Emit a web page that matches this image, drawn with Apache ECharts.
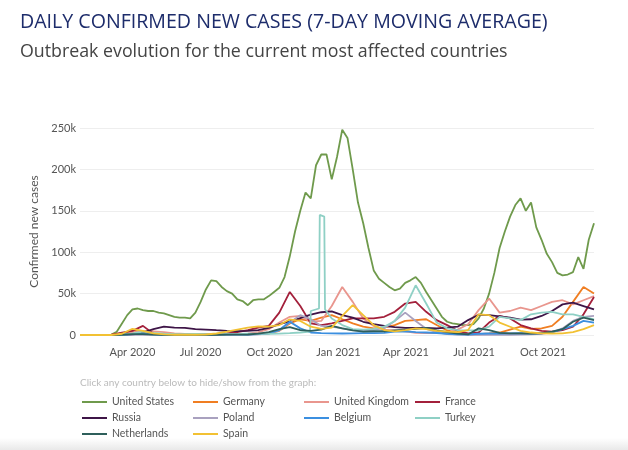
<!DOCTYPE html>
<html>
<head>
<meta charset="utf-8">
<script src="https://cdn.jsdelivr.net/npm/echarts@6/dist/echarts.min.js"></script>
<style>
  html, body { margin: 0; padding: 0; background: #fff; }
  #chart { width: 628px; height: 450px; }
</style>
</head>
<body>
<div id="chart"></div>
<script>
// weekly points for the US, every 2 weeks for the others, starting 2020-01-22 (thousands of cases)
const startDate = [2020, 0, 22];
const quarterTicks = ['2020-04-01', '2020-07-01', '2020-10-01', '2021-01-01', '2021-04-01', '2021-07-01', '2021-10-01'];
const monthNames = ['Jan', 'Feb', 'Mar', 'Apr', 'May', 'Jun', 'Jul', 'Aug', 'Sep', 'Oct', 'Nov', 'Dec'];

const unitedStates = [0, 0, 0, 0, 0, 0, 0.5, 4, 14, 24, 31, 32, 30, 29, 29, 27, 26, 24, 22, 21,
  21, 20, 27, 40, 55, 66, 65, 58, 53, 50, 43, 41, 36, 42, 43, 43, 47, 52, 57, 70,
  95, 125, 150, 172, 165, 205, 218, 218, 188, 215, 248, 238, 200, 160, 135, 105, 78, 68, 63, 58,
  54, 56, 63, 66, 70, 63, 52, 42, 32, 22, 16, 14, 13, 12, 12, 13, 20, 32, 50, 75,
  105, 125, 143, 157, 165, 150, 160, 130, 115, 98, 88, 75, 72, 73, 76, 94, 80, 115, 135];

const germany = [0, 0, 0, 0.05, 1.8, 5.5, 3.5, 1.2, 0.7, 0.5, 0.4, 0.5, 0.4, 0.6, 0.9, 1.3, 1.4, 1.6, 1.9, 5,
  14, 19, 17, 21, 24, 19, 14, 10, 8, 9, 12, 17, 18, 19, 12, 5.5, 2.5, 0.7, 0.9, 1.8,
  3, 6.5, 10, 7.5, 8, 11, 22, 40, 58, 50];
const unitedKingdom = [0, 0, 0, 0.05, 0.8, 3, 4.5, 4.5, 3.5, 2, 1.3, 0.9, 0.6, 0.7, 0.9, 1, 1.5, 3.5, 7, 15,
  22, 23, 16, 17, 35, 58, 40, 20, 11, 6.5, 5.5, 4.5, 2.7, 2.2, 2.3, 3, 6.5, 13, 30, 44,
  27, 29, 33, 30, 35, 40, 42, 37, 42, 47];
const france = [0, 0, 0, 0.3, 3, 5, 11, 1.5, 0.8, 0.5, 0.5, 0.6, 0.7, 1, 1.8, 3.5, 6, 9, 11, 27,
  52, 35, 14, 12, 14, 17, 20, 20, 20, 22, 28, 38, 40, 28, 18, 12, 5, 2, 3, 15,
  23, 20, 12, 8, 5, 4, 6, 10, 25, 46];
const russia = [0, 0, 0, 0, 0.03, 0.5, 3, 7, 10, 9, 8.7, 7, 6.6, 5.8, 5.1, 4.8, 5, 5.8, 8.5, 13,
  16.5, 20.5, 24.5, 27.5, 28.5, 24, 21, 16, 13, 11, 9.5, 8.6, 8.5, 8.6, 8, 9, 10, 18, 24.5, 24,
  22.5, 21, 18.5, 19, 23, 29, 37, 39, 35, 31];
const poland = [0, 0, 0, 0, 0.03, 0.2, 0.3, 0.35, 0.3, 0.3, 0.4, 0.3, 0.3, 0.5, 0.7, 0.7, 0.6, 0.8, 1.7, 5.5,
  15, 24, 19, 11, 10, 8, 6, 5, 6.5, 8, 17, 27, 17, 7.5, 3.5, 1.2, 0.4, 0.15, 0.1, 0.1,
  0.15, 0.2, 0.4, 0.7, 1.5, 3.5, 8, 17, 22, 23];
const belgium = [0, 0, 0, 0, 0.3, 1.2, 1.3, 0.7, 0.3, 0.2, 0.1, 0.1, 0.2, 0.4, 0.5, 0.5, 0.5, 1, 2, 6,
  16, 8, 3, 2.2, 2, 1.8, 2, 2.2, 2.2, 2.6, 4, 4.5, 3.5, 3, 2.4, 1.5, 0.8, 0.6, 1.5, 1.8,
  1.8, 2, 2.2, 1.8, 2.3, 3, 7, 11, 17, 15];
const turkey = [0, 0, 0, 0, 0.1, 2, 4, 2.5, 1.5, 1, 1, 1.3, 1.1, 0.95, 1.1, 1.2, 1.5, 1.7, 1.5, 1.7,
  2.2, 3, 29, null, 20, 12, 7, 6.5, 7.5, 10, 17, 33, 60, 38, 15, 8, 6, 5.5, 5.5, 10,
  22, 20, 18, 25, 27, 28, 25, 25, 22, 19];
// the December 2020 reporting spike
const turkeySpikeDates = ['2020-11-24', '2020-12-06', '2020-12-07', '2020-12-13', '2020-12-14'];
const turkeySpikeValues = [4, 32, 145, 143, 31];
const netherlands = [0, 0, 0, 0, 0.3, 1, 1.1, 0.5, 0.2, 0.2, 0.15, 0.05, 0.1, 0.2, 0.45, 0.55, 0.6, 1.6, 3.5, 7,
  9.5, 6, 5, 6.5, 11, 8, 5.5, 4, 4.5, 4.5, 5.5, 6.5, 7.5, 8.5, 5.5, 3.5, 1.7, 0.7, 8, 6,
  2.5, 2, 2, 1.8, 2, 4, 7, 16, 21, 18];
const spain = [0, 0, 0, 0, 1.5, 7.5, 5, 2, 0.7, 0.3, 0.3, 0.3, 0.6, 1.8, 4, 6.5, 9, 10.5, 10, 12,
  19, 17, 10, 7.5, 9, 23, 36, 24, 12, 6, 4.5, 6, 8, 7, 5, 4, 3.5, 6, 25, 24,
  15, 10, 5, 3, 2, 1.8, 2, 3.5, 7, 12];

const countries = ['United States', 'Germany', 'United Kingdom', 'France', 'Russia', 'Poland', 'Belgium', 'Turkey', 'Netherlands', 'Spain'];
const colors = ['#6f9a4c', '#f07e22', '#e9968e', '#a3203b', '#3e1547', '#a9a1bf', '#3b8fe0', '#8fd0c5', '#2e5f5b', '#f2c133'];

function dayAt(n) {
  return new Date(startDate[0], startDate[1], startDate[2] + n).getTime();
}
function toTime(s) {
  const p = s.split('-').map(Number);
  return new Date(p[0], p[1] - 1, p[2]).getTime();
}
function pairs(values, step) {
  return values.map((v, i) => [dayAt(i * step), v]).filter((p) => p[1] !== null);
}

const turkeyData = pairs(turkey, 14)
  .concat(turkeySpikeDates.map((d, i) => [toTime(d), turkeySpikeValues[i]]))
  .sort((a, b) => a[0] - b[0]);

const seriesData = [
  pairs(unitedStates, 7),
  pairs(germany, 14),
  pairs(unitedKingdom, 14),
  pairs(france, 14),
  pairs(russia, 14),
  pairs(poland, 14),
  pairs(belgium, 14),
  turkeyData,
  pairs(netherlands, 14),
  pairs(spain, 14),
];

const chart = echarts.init(document.getElementById('chart'));
const titleFont = '"Open Sans", sans-serif';
const font = 'Lato, sans-serif';

chart.setOption({
  backgroundColor: '#fff',
  color: colors,
  animation: false,
  title: [
    {
      text: 'DAILY CONFIRMED NEW CASES (7-DAY MOVING AVERAGE)',
      left: 20, top: 12, padding: 0,
      textStyle: { fontSize: 19.6, fontWeight: 'normal', color: '#1d2c6b', fontFamily: titleFont },
    },
    {
      text: 'Outbreak evolution for the current most affected countries',
      left: 20, top: 43, padding: 0,
      textStyle: { fontSize: 17.8, fontWeight: 'normal', color: '#444', fontFamily: titleFont },
    },
    {
      text: 'Click any country below to hide/show from the graph:',
      left: 80, top: 378, padding: 0,
      textStyle: { fontSize: 10, fontWeight: 'normal', color: '#bbb', fontFamily: font },
    },
  ],
  legend: {
    data: countries,
    left: 82, top: 394, width: 450,
    padding: 0,
    itemWidth: 25, itemHeight: 2, itemGap: 0,
    icon: 'rect',
    textStyle: { fontSize: 10.5, color: '#555', width: 81, lineHeight: 16, fontFamily: font },
  },
  grid: { left: 80, right: 34, top: 128, bottom: 115 },
  xAxis: {
    type: 'value',
    min: dayAt(0),
    max: dayAt(98 * 7),
    axisLine: { show: false },
    axisTick: { show: false },
    splitLine: { show: false },
    axisLabel: {
      customValues: quarterTicks.map(toTime),
      formatter: (v) => {
        const d = new Date(v);
        return monthNames[d.getMonth()] + ' ' + d.getFullYear();
      },
      color: '#555', fontSize: 11, margin: 12, fontFamily: font,
    },
  },
  yAxis: {
    type: 'value',
    min: 0, max: 250, interval: 50,
    name: 'Confirmed new cases',
    nameLocation: 'middle',
    nameGap: 39,
    nameTextStyle: { color: '#555', fontSize: 12, fontFamily: font },
    axisLine: { show: false },
    axisTick: { show: false },
    axisLabel: {
      formatter: (v) => (v === 0 ? '0' : v + 'k'),
      color: '#555', fontSize: 11, margin: 4, fontFamily: font,
    },
    splitLine: { lineStyle: { color: '#eee', width: 1 } },
  },
  series: countries.map((name, i) => ({
    name: name,
    type: 'line',
    data: seriesData[i],
    showSymbol: false,
    symbol: 'none',
    lineStyle: { width: 1.8 },
  })),
  graphic: [
    {
      type: 'rect', left: 0, top: 438, silent: true, z: -1,
      shape: { width: 628, height: 12 },
      style: {
        fill: new echarts.graphic.LinearGradient(0, 0, 0, 1, [
          { offset: 0, color: '#ffffff' },
          { offset: 1, color: '#e9e9e9' },
        ]),
      },
    },
  ],
});
</script>
</body>
</html>
